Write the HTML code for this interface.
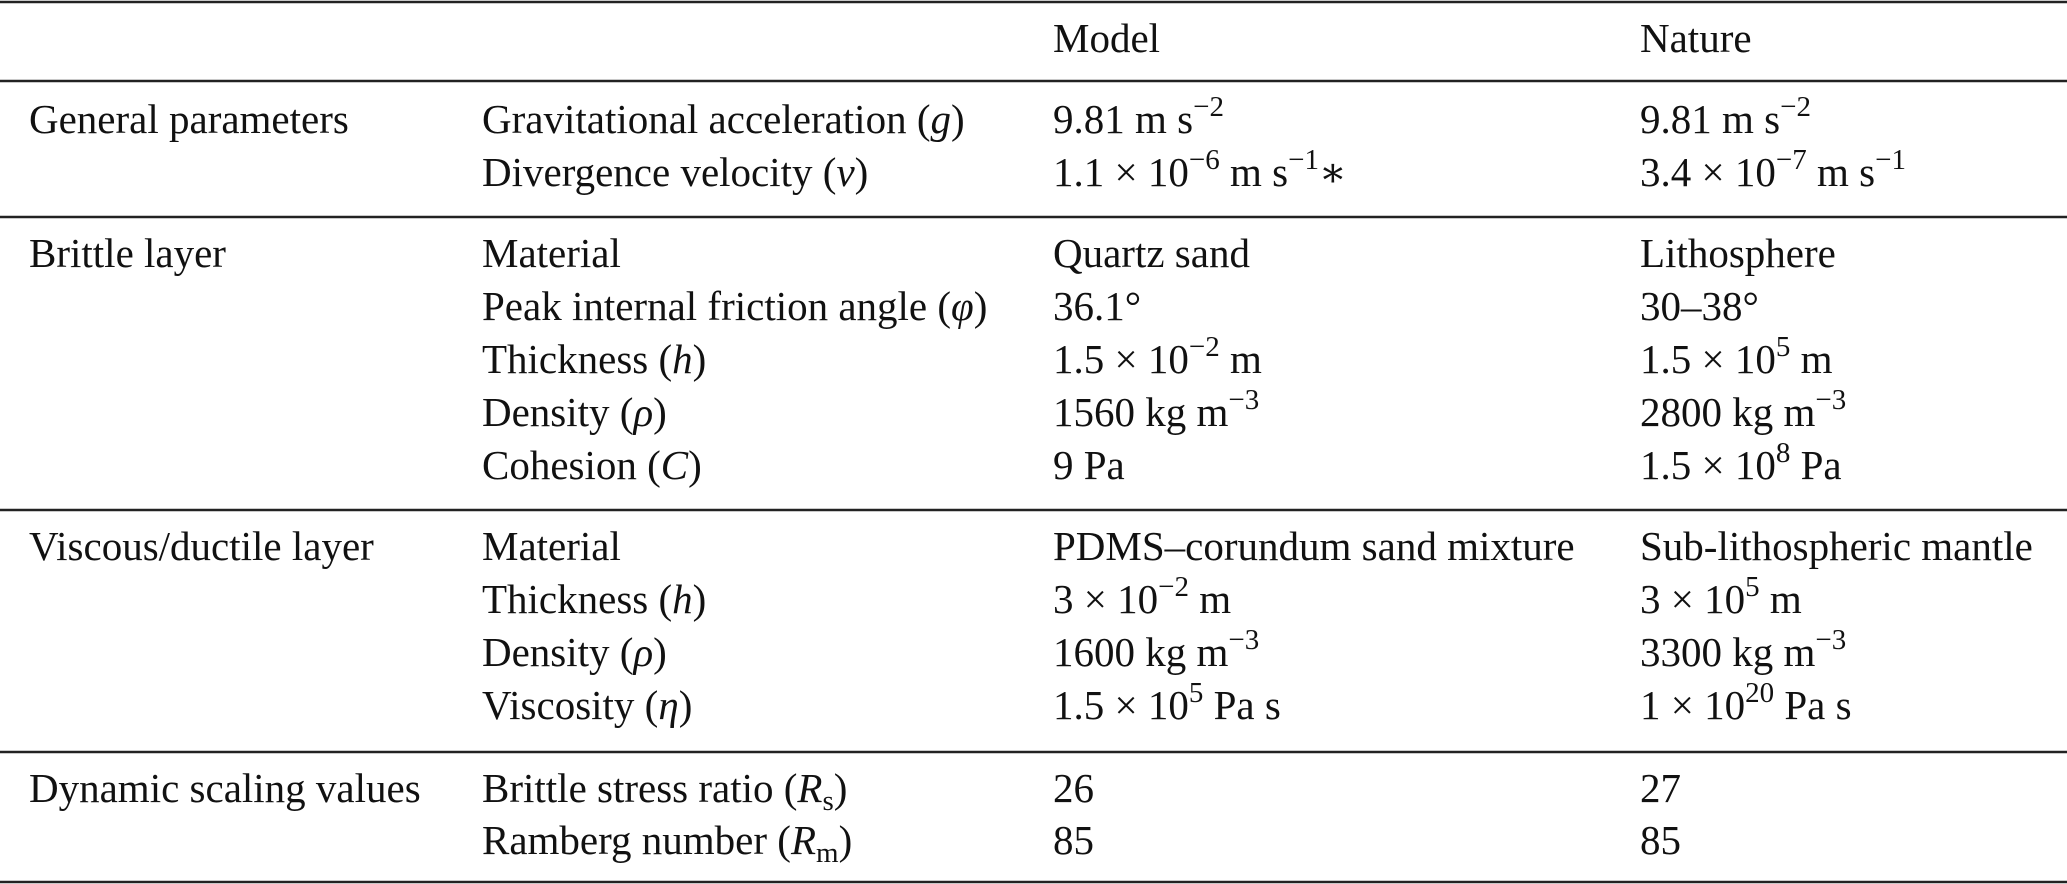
<!DOCTYPE html>
<html><head><meta charset="utf-8"><style>
html,body{margin:0;padding:0;background:#fff;}
svg{display:block;}
text{font-family:"Liberation Serif","DejaVu Serif",serif;font-size:41px;fill:#111;}
.s{font-size:29px;}
</style></head><body>
<svg width="2067" height="884" viewBox="0 0 2067 884">
<g stroke="#222" stroke-width="2.5">
<line x1="0" y1="2" x2="2067" y2="2"/>
<line x1="0" y1="81" x2="2067" y2="81"/>
<line x1="0" y1="217" x2="2067" y2="217"/>
<line x1="0" y1="510" x2="2067" y2="510"/>
<line x1="0" y1="752" x2="2067" y2="752"/>
<line x1="0" y1="882" x2="2067" y2="882"/>
</g>
<text x="1053" y="52">Model</text>
<text x="1640" y="52">Nature</text>

<text x="29" y="133">General parameters</text>
<text x="482" y="133">Gravitational acceleration (<tspan font-style="italic">g</tspan>)</text>
<text x="1053" y="133">9.81 m s<tspan class="s" dy="-17">−2</tspan></text>
<text x="1640" y="133">9.81 m s<tspan class="s" dy="-17">−2</tspan></text>
<text x="482" y="186">Divergence velocity (<tspan font-style="italic">v</tspan>)</text>
<text x="1053" y="186">1.1 × 10<tspan class="s" dy="-17">−6</tspan><tspan dy="17"> m s</tspan><tspan class="s" dy="-17">−1</tspan><tspan dy="17">∗</tspan></text>
<text x="1640" y="186">3.4 × 10<tspan class="s" dy="-17">−7</tspan><tspan dy="17"> m s</tspan><tspan class="s" dy="-17">−1</tspan></text>

<text x="29" y="267">Brittle layer</text>
<text x="482" y="267">Material</text>
<text x="1053" y="267">Quartz sand</text>
<text x="1640" y="267">Lithosphere</text>
<text x="482" y="320">Peak internal friction angle (<tspan font-style="italic">φ</tspan>)</text>
<text x="1053" y="320">36.1°</text>
<text x="1640" y="320">30–38°</text>
<text x="482" y="373">Thickness (<tspan font-style="italic">h</tspan>)</text>
<text x="1053" y="373">1.5 × 10<tspan class="s" dy="-17">−2</tspan><tspan dy="17"> m</tspan></text>
<text x="1640" y="373">1.5 × 10<tspan class="s" dy="-17">5</tspan><tspan dy="17"> m</tspan></text>
<text x="482" y="426">Density (<tspan font-style="italic">ρ</tspan>)</text>
<text x="1053" y="426">1560 kg m<tspan class="s" dy="-17">−3</tspan></text>
<text x="1640" y="426">2800 kg m<tspan class="s" dy="-17">−3</tspan></text>
<text x="482" y="479">Cohesion (<tspan font-style="italic">C</tspan>)</text>
<text x="1053" y="479">9 Pa</text>
<text x="1640" y="479">1.5 × 10<tspan class="s" dy="-17">8</tspan><tspan dy="17"> Pa</tspan></text>

<text x="29" y="560">Viscous/ductile layer</text>
<text x="482" y="560">Material</text>
<text x="1053" y="560">PDMS–corundum sand mixture</text>
<text x="1640" y="560">Sub-lithospheric mantle</text>
<text x="482" y="613">Thickness (<tspan font-style="italic">h</tspan>)</text>
<text x="1053" y="613">3 × 10<tspan class="s" dy="-17">−2</tspan><tspan dy="17"> m</tspan></text>
<text x="1640" y="613">3 × 10<tspan class="s" dy="-17">5</tspan><tspan dy="17"> m</tspan></text>
<text x="482" y="666">Density (<tspan font-style="italic">ρ</tspan>)</text>
<text x="1053" y="666">1600 kg m<tspan class="s" dy="-17">−3</tspan></text>
<text x="1640" y="666">3300 kg m<tspan class="s" dy="-17">−3</tspan></text>
<text x="482" y="719">Viscosity (<tspan font-style="italic">η</tspan>)</text>
<text x="1053" y="719">1.5 × 10<tspan class="s" dy="-17">5</tspan><tspan dy="17"> Pa s</tspan></text>
<text x="1640" y="719">1 × 10<tspan class="s" dy="-17">20</tspan><tspan dy="17"> Pa s</tspan></text>

<text x="29" y="802">Dynamic scaling values</text>
<text x="482" y="802">Brittle stress ratio (<tspan font-style="italic">R</tspan><tspan class="s" dy="8">s</tspan><tspan dy="-8">)</tspan></text>
<text x="1053" y="802">26</text>
<text x="1640" y="802">27</text>
<text x="482" y="854">Ramberg number (<tspan font-style="italic">R</tspan><tspan class="s" dy="8">m</tspan><tspan dy="-8">)</tspan></text>
<text x="1053" y="854">85</text>
<text x="1640" y="854">85</text>
</svg>
</body></html>
